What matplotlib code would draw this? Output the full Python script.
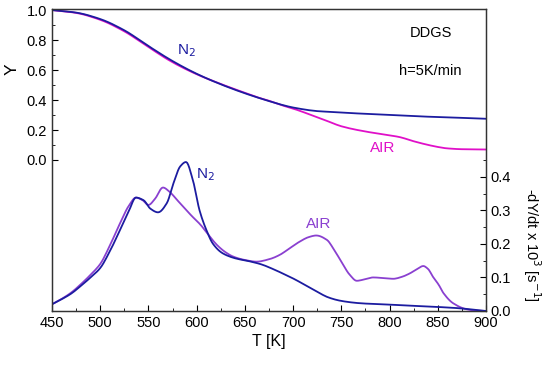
import numpy as np
import matplotlib
matplotlib.use('Agg')
from matplotlib import pyplot as plt
from matplotlib.ticker import MultipleLocator, FixedLocator

plt.rcParams['font.family'] = ['Liberation Sans', 'DejaVu Sans']

# mass fraction Y (left axis)
T_Y = [450, 475, 500, 525, 550, 575, 600, 625, 650, 666, 675, 690, 700, 725, 735, 750,
       775, 800, 811, 825, 839, 850, 859, 875, 900]
Y_N2 = [1.0, 0.983, 0.94, 0.865, 0.76, 0.66, 0.575, 0.505, 0.445, 0.411, 0.393, 0.365,
        0.35, 0.326, 0.322, 0.316, 0.308, 0.300, 0.297, 0.293, 0.289, 0.287, 0.285, 0.281, 0.275]
Y_AIR = [1.0, 0.981, 0.935, 0.858, 0.753, 0.652, 0.572, 0.507, 0.448, 0.412, 0.395, 0.362,
         0.343, 0.285, 0.261, 0.225, 0.19, 0.165, 0.152, 0.125, 0.102, 0.087, 0.078, 0.072, 0.07]

# -dY/dt x 10^3 (right axis)
T_N2 = [450, 460, 470, 480, 490, 500, 510, 520, 530, 537, 545, 552, 560, 569, 576, 583,
        589, 596, 603, 610, 617, 627, 640, 655, 667, 680, 692, 702, 712, 725, 737, 750,
        770, 800, 820, 850, 873, 890, 900]
D_N2 = [0.020, 0.035, 0.052, 0.075, 0.100, 0.128, 0.178, 0.238, 0.300, 0.338, 0.330, 0.305,
        0.294, 0.321, 0.381, 0.431, 0.444, 0.391, 0.300, 0.242, 0.200, 0.172, 0.157, 0.148,
        0.139, 0.124, 0.108, 0.094, 0.078, 0.057, 0.040, 0.030, 0.023, 0.019, 0.016, 0.012,
        0.008, 0.003, 0.000]
T_AIR = [450, 460, 470, 480, 490, 500, 510, 520, 530, 537, 544, 550, 557, 565, 572, 580,
         586, 595, 604, 612, 621, 630, 638, 650, 662, 676, 686, 697, 707, 716, 724, 735,
         742, 749, 759, 766, 775, 783, 794, 804, 813, 821, 829, 835, 840, 845, 851, 856,
         866, 880, 890, 900]
D_AIR = [0.020, 0.036, 0.055, 0.080, 0.108, 0.140, 0.195, 0.258, 0.315, 0.338, 0.330, 0.316,
         0.335, 0.368, 0.355, 0.330, 0.311, 0.283, 0.257, 0.228, 0.197, 0.175, 0.162, 0.152,
         0.147, 0.155, 0.167, 0.188, 0.207, 0.220, 0.225, 0.212, 0.185, 0.152, 0.107, 0.090,
         0.095, 0.100, 0.098, 0.096, 0.102, 0.112, 0.126, 0.134, 0.125, 0.102, 0.078, 0.053,
         0.023, 0.005, 0.001, 0.000]


def smooth(x, y, n=6):
    # pchip-style curve through the read points, only to draw them smooth
    x = np.asarray(x, float)
    y = np.asarray(y, float)
    h = np.diff(x)
    d = np.diff(y) / h
    m = np.zeros_like(y)
    for k in range(1, len(x) - 1):
        if d[k - 1] * d[k] > 0:
            w1 = 2 * h[k] + h[k - 1]
            w2 = h[k] + 2 * h[k - 1]
            m[k] = (w1 + w2) / (w1 / d[k - 1] + w2 / d[k])
    m[0] = d[0]
    m[-1] = d[-1]
    xs, ys = [], []
    for k in range(len(h)):
        t = np.linspace(0, 1, n, endpoint=False)
        h00 = 2 * t**3 - 3 * t**2 + 1
        h10 = t**3 - 2 * t**2 + t
        h01 = -2 * t**3 + 3 * t**2
        h11 = t**3 - t**2
        xs.append(x[k] + t * h[k])
        ys.append(h00 * y[k] + h10 * h[k] * m[k] + h01 * y[k + 1] + h11 * h[k] * m[k + 1])
    xs.append([x[-1]])
    ys.append([y[-1]])
    return np.concatenate(xs), np.concatenate(ys)


c_n2 = '#1c1ca0'
c_air_y = '#e010c8'
c_air_d = '#8a40d0'

fig = plt.figure(figsize=(5.5, 3.66), dpi=100)
ax = fig.add_axes([0.0945, 0.1503, 0.7891, 0.8251])
ax2 = ax.twinx()

ax.plot(*smooth(T_Y, Y_AIR), color=c_air_y, lw=1.3)
ax.plot(*smooth(T_Y, Y_N2), color=c_n2, lw=1.3)
ax2.plot(*smooth(T_AIR, D_AIR), color=c_air_d, lw=1.3)
ax2.plot(*smooth(T_N2, D_N2), color=c_n2, lw=1.3)

ax.set_xlim(450, 900)
ax.set_ylim(-1.007, 1.007)
ax2.set_ylim(0, 0.9)

ax.xaxis.set_major_locator(MultipleLocator(50))
ax.xaxis.set_minor_locator(MultipleLocator(25))
ax.yaxis.set_major_locator(FixedLocator([0, 0.2, 0.4, 0.6, 0.8, 1.0]))
ax.yaxis.set_minor_locator(FixedLocator([0.1, 0.3, 0.5, 0.7, 0.9]))
ax.set_yticklabels(['0.0', '0.2', '0.4', '0.6', '0.8', '1.0'])
ax2.yaxis.set_major_locator(FixedLocator([0, 0.1, 0.2, 0.3, 0.4]))
ax2.yaxis.set_minor_locator(FixedLocator([0.05, 0.15, 0.25, 0.35, 0.45]))
ax2.set_yticklabels(['0.0', '0.1', '0.2', '0.3', '0.4'])

for a in (ax, ax2):
    a.tick_params(which='both', direction='in', labelsize=10.5, top=False)
    a.tick_params(which='major', length=4)
    a.tick_params(which='minor', length=2.5)
    for s in a.spines.values():
        s.set_linewidth(0.9)
        s.set_color('#333333')

ax.set_xlabel('T [K]', fontsize=11.5, labelpad=3)
ax.set_ylabel('Y', fontsize=12.5, labelpad=2)
ax.yaxis.set_label_coords(-0.075, 0.8)
ax2.set_ylabel('-dY/dt x 10$^3$ [s$^{-1}$]', fontsize=10.5, rotation=270, va='center')
ax2.yaxis.set_label_coords(1.105, 0.22)

ax.text(589, 0.73, 'N$_2$', color=c_n2, fontsize=11, ha='center', va='center')
ax.text(793, 0.08, 'AIR', color=c_air_y, fontsize=11, ha='center', va='center')
ax2.text(609, 0.405, 'N$_2$', color=c_n2, fontsize=11, ha='center', va='center')
ax2.text(726, 0.26, 'AIR', color=c_air_d, fontsize=11, ha='center', va='center')
ax.text(843, 0.847, 'DDGS', fontsize=10.5, ha='center', va='center')
ax.text(842, 0.593, 'h=5K/min', fontsize=10.5, ha='center', va='center')

fig.savefig('out.png', dpi=100)
